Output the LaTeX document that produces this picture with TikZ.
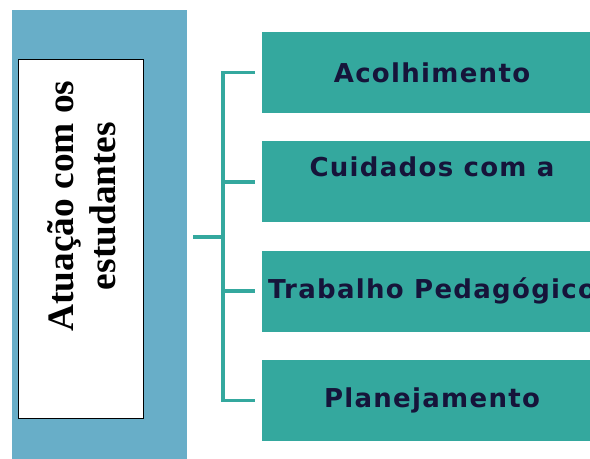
\documentclass[tikz,border=0pt]{standalone}
\usepackage{fontspec}
\setmainfont{Liberation Serif}
\newfontfamily\boxfont[LetterSpace=5]{DejaVu Sans}
\usepackage{xcolor}
\usepackage{tikz}
\usetikzlibrary{positioning, calc}
\definecolor{panelblue}{RGB}{104,174,200}
\definecolor{boxgreen}{RGB}{52,168,158}
\definecolor{inkblue}{RGB}{22,20,58}
\tikzstyle{panel} = [rectangle, minimum width=131.25pt, minimum height=336.75pt, inner sep=0pt, fill=panelblue]
\tikzstyle{titlebox} = [rectangle, minimum width=93.75pt, minimum height=269.25pt, inner sep=0pt, draw=black, line width=0.6pt, fill=white]
\tikzstyle{titletext} = [rotate=90, align=center, font=\fontsize{28}{31.5}\selectfont\bfseries]
\tikzstyle{item} = [rectangle, minimum width=255pt, minimum height=60.75pt, inner sep=0pt, fill=boxgreen, text=inkblue, align=center, font=\boxfont\fontsize{19.5}{23}\selectfont\bfseries]
\tikzstyle{link} = [draw=boxgreen, line width=2.8pt]

\begin{document}
\begin{tikzpicture}[x=0.75pt, y=-0.75pt, node distance=82pt]
\useasboundingbox (0,0) rectangle (590,459);
\clip (0,0) rectangle (590,459);
\node (panel) [panel] at (99.5,234.5) {};
\node (title) [titlebox] at (80.5,238.5) {};
\node (titlelbl) [titletext] at (82,206) {Atuação com os\\estudantes};
\node (acolh) [item] at (432,72.5) {Acolhimento};
\node (cuid) [item, below of=acolh] {Cuidados com a\\\mbox{}};
\node (trab) [item, below of=cuid] {Trabalho Pedagógico};
\node (plan) [item, below of=trab] {Planejamento};
\coordinate (trunk) at (193,237);
\coordinate (hub) at (223,237);

\draw [link] (trunk) -- (hub);
\draw [link] (hub) |- ([xshift=-5pt]acolh.west);
\draw [link] (hub) |- ([xshift=-5pt]cuid.west);
\draw [link] (hub) |- ([xshift=-5pt]trab.west);
\draw [link] (hub) |- ([xshift=-5pt]plan.west);
\end{tikzpicture}
\end{document}
